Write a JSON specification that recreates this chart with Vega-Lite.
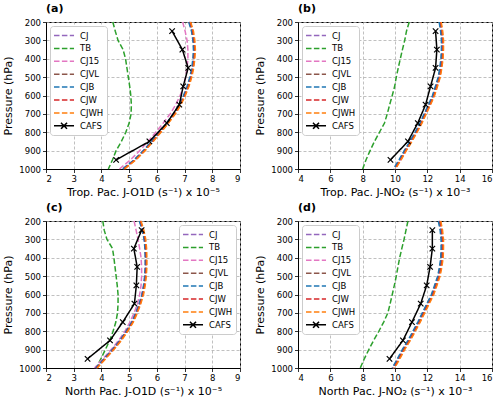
{
  "$schema": "https://vega.github.io/schema/vega-lite/v6.json",
  "padding": {"left": 2, "top": 2, "right": 2, "bottom": 2},
  "data": {"values": [
    {"panel":"a","p":1000,"CJ":4.79,"TB":4.25,"CJ15":4.65,"CJVL":4.78,"CJB":4.76,"CJW":4.81,"CJWH":4.83},
    {"panel":"a","p":950,"CJ":5.21,"TB":4.40,"CJ15":5.05,"CJVL":5.20,"CJB":5.18,"CJW":5.23,"CJWH":5.25,"CAFS":4.53},
    {"panel":"a","p":900,"CJ":5.54,"TB":4.53,"CJ15":5.38,"CJVL":5.53,"CJB":5.51,"CJW":5.56,"CJWH":5.58},
    {"panel":"a","p":850,"CJ":5.83,"TB":4.72,"CJ15":5.68,"CJVL":5.82,"CJB":5.80,"CJW":5.85,"CJWH":5.87,"CAFS":5.73},
    {"panel":"a","p":800,"CJ":6.11,"TB":4.88,"CJ15":5.96,"CJVL":6.10,"CJB":6.08,"CJW":6.13,"CJWH":6.15},
    {"panel":"a","p":750,"CJ":6.38,"TB":5.00,"CJ15":6.23,"CJVL":6.37,"CJB":6.35,"CJW":6.40,"CJWH":6.42,"CAFS":6.36},
    {"panel":"a","p":700,"CJ":6.63,"TB":5.07,"CJ15":6.48,"CJVL":6.62,"CJB":6.60,"CJW":6.65,"CJWH":6.67},
    {"panel":"a","p":650,"CJ":6.83,"TB":5.08,"CJ15":6.68,"CJVL":6.82,"CJB":6.80,"CJW":6.85,"CJWH":6.87,"CAFS":6.81},
    {"panel":"a","p":600,"CJ":6.99,"TB":5.06,"CJ15":6.84,"CJVL":6.98,"CJB":6.96,"CJW":7.01,"CJWH":7.03},
    {"panel":"a","p":550,"CJ":7.12,"TB":5.02,"CJ15":6.96,"CJVL":7.11,"CJB":7.09,"CJW":7.14,"CJWH":7.16,"CAFS":6.95},
    {"panel":"a","p":500,"CJ":7.22,"TB":4.97,"CJ15":7.04,"CJVL":7.21,"CJB":7.19,"CJW":7.24,"CJWH":7.26},
    {"panel":"a","p":450,"CJ":7.29,"TB":4.92,"CJ15":7.09,"CJVL":7.28,"CJB":7.26,"CJW":7.31,"CJWH":7.33,"CAFS":7.13},
    {"panel":"a","p":400,"CJ":7.33,"TB":4.87,"CJ15":7.12,"CJVL":7.32,"CJB":7.30,"CJW":7.35,"CJWH":7.37},
    {"panel":"a","p":350,"CJ":7.35,"TB":4.78,"CJ15":7.12,"CJVL":7.34,"CJB":7.32,"CJW":7.37,"CJWH":7.39,"CAFS":6.92},
    {"panel":"a","p":300,"CJ":7.33,"TB":4.60,"CJ15":7.09,"CJVL":7.32,"CJB":7.30,"CJW":7.35,"CJWH":7.37},
    {"panel":"a","p":250,"CJ":7.28,"TB":4.50,"CJ15":7.02,"CJVL":7.27,"CJB":7.25,"CJW":7.30,"CJWH":7.32,"CAFS":6.55},
    {"panel":"a","p":200,"CJ":7.18,"TB":4.41,"CJ15":6.93,"CJVL":7.17,"CJB":7.15,"CJW":7.20,"CJWH":7.22},

    {"panel":"b","p":1000,"CJ":9.95,"TB":8.00,"CJ15":9.97,"CJVL":9.93,"CJB":9.90,"CJW":10.00,"CJWH":10.03},
    {"panel":"b","p":950,"CJ":10.30,"TB":8.21,"CJ15":10.32,"CJVL":10.28,"CJB":10.25,"CJW":10.35,"CJWH":10.38,"CAFS":9.72},
    {"panel":"b","p":900,"CJ":10.62,"TB":8.46,"CJ15":10.64,"CJVL":10.60,"CJB":10.57,"CJW":10.67,"CJWH":10.70},
    {"panel":"b","p":850,"CJ":10.97,"TB":8.73,"CJ15":10.99,"CJVL":10.95,"CJB":10.92,"CJW":11.02,"CJWH":11.05,"CAFS":10.80},
    {"panel":"b","p":800,"CJ":11.29,"TB":9.04,"CJ15":11.31,"CJVL":11.27,"CJB":11.24,"CJW":11.34,"CJWH":11.37},
    {"panel":"b","p":750,"CJ":11.59,"TB":9.35,"CJ15":11.61,"CJVL":11.57,"CJB":11.54,"CJW":11.64,"CJWH":11.67,"CAFS":11.41},
    {"panel":"b","p":700,"CJ":11.85,"TB":9.52,"CJ15":11.87,"CJVL":11.83,"CJB":11.80,"CJW":11.90,"CJWH":11.93},
    {"panel":"b","p":650,"CJ":12.12,"TB":9.67,"CJ15":12.14,"CJVL":12.10,"CJB":12.07,"CJW":12.17,"CJWH":12.20,"CAFS":11.89},
    {"panel":"b","p":600,"CJ":12.37,"TB":9.83,"CJ15":12.39,"CJVL":12.35,"CJB":12.32,"CJW":12.42,"CJWH":12.45},
    {"panel":"b","p":550,"CJ":12.55,"TB":9.98,"CJ15":12.57,"CJVL":12.53,"CJB":12.50,"CJW":12.60,"CJWH":12.63,"CAFS":12.20},
    {"panel":"b","p":500,"CJ":12.72,"TB":10.08,"CJ15":12.74,"CJVL":12.70,"CJB":12.67,"CJW":12.77,"CJWH":12.80},
    {"panel":"b","p":450,"CJ":12.82,"TB":10.20,"CJ15":12.84,"CJVL":12.80,"CJB":12.77,"CJW":12.87,"CJWH":12.90,"CAFS":12.51},
    {"panel":"b","p":400,"CJ":12.89,"TB":10.33,"CJ15":12.91,"CJVL":12.87,"CJB":12.84,"CJW":12.94,"CJWH":12.97},
    {"panel":"b","p":350,"CJ":12.92,"TB":10.46,"CJ15":12.94,"CJVL":12.90,"CJB":12.87,"CJW":12.97,"CJWH":13.00,"CAFS":12.59},
    {"panel":"b","p":300,"CJ":12.92,"TB":10.60,"CJ15":12.94,"CJVL":12.90,"CJB":12.87,"CJW":12.97,"CJWH":13.00},
    {"panel":"b","p":250,"CJ":12.87,"TB":10.71,"CJ15":12.89,"CJVL":12.85,"CJB":12.82,"CJW":12.92,"CJWH":12.95,"CAFS":12.51},
    {"panel":"b","p":200,"CJ":12.78,"TB":10.88,"CJ15":12.80,"CJVL":12.76,"CJB":12.73,"CJW":12.83,"CJWH":12.86},

    {"panel":"c","p":1000,"CJ":3.80,"TB":3.82,"CJ15":3.75,"CJVL":3.81,"CJB":3.79,"CJW":3.83,"CJWH":3.85},
    {"panel":"c","p":950,"CJ":4.10,"TB":3.98,"CJ15":4.05,"CJVL":4.11,"CJB":4.09,"CJW":4.13,"CJWH":4.15,"CAFS":3.50},
    {"panel":"c","p":900,"CJ":4.40,"TB":4.14,"CJ15":4.35,"CJVL":4.41,"CJB":4.39,"CJW":4.43,"CJWH":4.45},
    {"panel":"c","p":850,"CJ":4.67,"TB":4.30,"CJ15":4.62,"CJVL":4.68,"CJB":4.66,"CJW":4.70,"CJWH":4.72,"CAFS":4.31},
    {"panel":"c","p":800,"CJ":4.90,"TB":4.42,"CJ15":4.85,"CJVL":4.91,"CJB":4.89,"CJW":4.93,"CJWH":4.95},
    {"panel":"c","p":750,"CJ":5.10,"TB":4.52,"CJ15":5.03,"CJVL":5.11,"CJB":5.09,"CJW":5.13,"CJWH":5.15,"CAFS":4.77},
    {"panel":"c","p":700,"CJ":5.25,"TB":4.58,"CJ15":5.18,"CJVL":5.26,"CJB":5.24,"CJW":5.28,"CJWH":5.30},
    {"panel":"c","p":650,"CJ":5.37,"TB":4.60,"CJ15":5.30,"CJVL":5.38,"CJB":5.36,"CJW":5.40,"CJWH":5.42,"CAFS":5.19},
    {"panel":"c","p":600,"CJ":5.47,"TB":4.60,"CJ15":5.38,"CJVL":5.48,"CJB":5.46,"CJW":5.50,"CJWH":5.52},
    {"panel":"c","p":550,"CJ":5.53,"TB":4.57,"CJ15":5.43,"CJVL":5.54,"CJB":5.52,"CJW":5.56,"CJWH":5.58,"CAFS":5.26},
    {"panel":"c","p":500,"CJ":5.57,"TB":4.53,"CJ15":5.45,"CJVL":5.58,"CJB":5.56,"CJW":5.60,"CJWH":5.62},
    {"panel":"c","p":450,"CJ":5.59,"TB":4.49,"CJ15":5.45,"CJVL":5.60,"CJB":5.58,"CJW":5.62,"CJWH":5.64,"CAFS":5.29},
    {"panel":"c","p":400,"CJ":5.59,"TB":4.45,"CJ15":5.43,"CJVL":5.60,"CJB":5.58,"CJW":5.62,"CJWH":5.64},
    {"panel":"c","p":350,"CJ":5.58,"TB":4.40,"CJ15":5.38,"CJVL":5.59,"CJB":5.57,"CJW":5.61,"CJWH":5.63,"CAFS":5.17},
    {"panel":"c","p":300,"CJ":5.55,"TB":4.20,"CJ15":5.32,"CJVL":5.56,"CJB":5.54,"CJW":5.58,"CJWH":5.60},
    {"panel":"c","p":250,"CJ":5.48,"TB":4.10,"CJ15":5.25,"CJVL":5.49,"CJB":5.47,"CJW":5.51,"CJWH":5.53,"CAFS":5.45},
    {"panel":"c","p":200,"CJ":5.38,"TB":4.05,"CJ15":5.18,"CJVL":5.39,"CJB":5.37,"CJW":5.41,"CJWH":5.43},

    {"panel":"d","p":1000,"CJ":9.87,"TB":7.85,"CJ15":9.87,"CJVL":9.86,"CJB":9.82,"CJW":9.93,"CJWH":9.97},
    {"panel":"d","p":950,"CJ":10.20,"TB":8.10,"CJ15":10.20,"CJVL":10.19,"CJB":10.15,"CJW":10.26,"CJWH":10.30,"CAFS":9.66},
    {"panel":"d","p":900,"CJ":10.50,"TB":8.38,"CJ15":10.50,"CJVL":10.49,"CJB":10.45,"CJW":10.56,"CJWH":10.60},
    {"panel":"d","p":850,"CJ":10.85,"TB":8.68,"CJ15":10.85,"CJVL":10.84,"CJB":10.80,"CJW":10.91,"CJWH":10.95,"CAFS":10.49},
    {"panel":"d","p":800,"CJ":11.16,"TB":9.00,"CJ15":11.16,"CJVL":11.15,"CJB":11.11,"CJW":11.22,"CJWH":11.26},
    {"panel":"d","p":750,"CJ":11.46,"TB":9.30,"CJ15":11.46,"CJVL":11.45,"CJB":11.41,"CJW":11.52,"CJWH":11.56,"CAFS":11.05},
    {"panel":"d","p":700,"CJ":11.74,"TB":9.56,"CJ15":11.74,"CJVL":11.73,"CJB":11.69,"CJW":11.80,"CJWH":11.84},
    {"panel":"d","p":650,"CJ":12.02,"TB":9.70,"CJ15":12.02,"CJVL":12.01,"CJB":11.97,"CJW":12.08,"CJWH":12.12,"CAFS":11.59},
    {"panel":"d","p":600,"CJ":12.30,"TB":9.83,"CJ15":12.30,"CJVL":12.29,"CJB":12.25,"CJW":12.36,"CJWH":12.40},
    {"panel":"d","p":550,"CJ":12.50,"TB":9.96,"CJ15":12.50,"CJVL":12.49,"CJB":12.45,"CJW":12.56,"CJWH":12.60,"CAFS":11.96},
    {"panel":"d","p":500,"CJ":12.69,"TB":10.08,"CJ15":12.69,"CJVL":12.68,"CJB":12.64,"CJW":12.75,"CJWH":12.79},
    {"panel":"d","p":450,"CJ":12.80,"TB":10.18,"CJ15":12.80,"CJVL":12.79,"CJB":12.75,"CJW":12.86,"CJWH":12.90,"CAFS":12.17},
    {"panel":"d","p":400,"CJ":12.88,"TB":10.29,"CJ15":12.88,"CJVL":12.87,"CJB":12.83,"CJW":12.94,"CJWH":12.98},
    {"panel":"d","p":350,"CJ":12.90,"TB":10.42,"CJ15":12.90,"CJVL":12.89,"CJB":12.85,"CJW":12.96,"CJWH":13.00,"CAFS":12.31},
    {"panel":"d","p":300,"CJ":12.90,"TB":10.56,"CJ15":12.90,"CJVL":12.89,"CJB":12.85,"CJW":12.96,"CJWH":13.00},
    {"panel":"d","p":250,"CJ":12.84,"TB":10.68,"CJ15":12.84,"CJVL":12.83,"CJB":12.79,"CJW":12.90,"CJWH":12.94,"CAFS":12.31},
    {"panel":"d","p":200,"CJ":12.73,"TB":10.80,"CJ15":12.73,"CJVL":12.72,"CJB":12.68,"CJW":12.79,"CJWH":12.83}
  ]},
  "transform": [
    {"fold": ["CJ","TB","CJ15","CJVL","CJB","CJW","CJWH","CAFS"], "as": ["model","j"]},
    {"filter": "isValid(datum.j)"}
  ],
  "config": {
    "font": "DejaVu Sans",
    "view": {"stroke": "black", "strokeWidth": 1},
    "axis": {
      "domainColor": "black", "tickColor": "black", "tickSize": 3.5, "tickWidth": 0.8,
      "labelFontSize": 8.5, "labelColor": "black", "labelPadding": 2,
      "titleFontSize": 11, "titleFontWeight": "normal", "titleColor": "black", "titlePadding": 4,
      "gridColor": "#b0b0b0", "gridDash": [3, 2], "gridWidth": 0.8
    },
    "axisX": {"titlePadding": 3},
    "axisY": {"titlePadding": 5, "format": "d"},
    "legend": {
      "offset": 4, "padding": 3, "fillColor": "white", "strokeColor": "#cccccc", "cornerRadius": 3,
      "symbolType": "stroke", "symbolSize": 121, "symbolStrokeWidth": 1.5,
      "labelFontSize": 8.5, "labelColor": "black", "rowPadding": 1.9, "labelOffset": 14
    },
    "title": {"anchor": "start", "fontSize": 11, "fontWeight": "bold", "offset": 4, "frame": "group", "color": "black"},
    "point": {"opacity": 1}
  },
  "columns": 2,
  "spacing": {"column": 58, "row": 52},
  "bounds": "flush",
  "resolve": {
    "scale": {"x": "independent", "y": "independent", "color": "independent", "strokeDash": "independent"},
    "axis": {"x": "independent", "y": "independent"},
    "legend": {"color": "independent", "strokeDash": "independent"}
  },
  "concat": [
    {
      "title": {"text": "(a)"},
      "width": 194, "height": 147,
      "transform": [{"filter": "datum.panel === 'a'"}],
      "encoding": {
        "x": {"field": "j", "type": "quantitative", "scale": {"domain": [2, 9], "nice": false, "zero": false}, "axis": {"values": [2,3,4,5,6,7,8,9], "title": "Trop. Pac. J-O1D (s⁻¹) x 10⁻⁵"}},
        "y": {"field": "p", "type": "quantitative", "scale": {"domain": [200, 1000], "reverse": true, "nice": false, "zero": false}, "axis": {"values": [200,300,400,500,600,700,800,900,1000], "title": "Pressure (hPa)"}}
      },
      "layer": [
        {"mark": {"type": "line", "strokeWidth": 1.5},
         "encoding": {
           "order": {"field": "p", "type": "quantitative"},
           "color": {"field": "model", "type": "nominal", "scale": {"domain": ["CJ","TB","CJ15","CJVL","CJB","CJW","CJWH","CAFS"], "range": ["#9467bd","#2ca02c","#e377c2","#8c564b","#1f77b4","#d62728","#ff7f0e","#000000"]},
             "legend": {"title": null, "orient": "top-left", "encode": {"symbols": {"update": {"shape": [{"test": "datum.value === 'CAFS'", "value": "M-1,0L2.64,0M0.27,-0.55L1.37,0.55M0.27,0.55L1.37,-0.55"}, {"value": "M-1,0L2.64,0"}]}}}}},
           "strokeDash": {"field": "model", "type": "nominal", "scale": {"domain": ["CJ","TB","CJ15","CJVL","CJB","CJW","CJWH","CAFS"], "range": [[5.5,2.4],[5.5,2.4],[5.5,2.4],[5.5,2.4],[5.5,2.4],[5.5,2.4],[5.5,2.4],[1,0]]},
             "legend": {"title": null, "orient": "top-left", "encode": {"symbols": {"update": {"shape": [{"test": "datum.value === 'CAFS'", "value": "M-1,0L2.64,0M0.27,-0.55L1.37,0.55M0.27,0.55L1.37,-0.55"}, {"value": "M-1,0L2.64,0"}]}}}}}
         }},
        {"transform": [{"filter": "datum.model === 'CAFS'"}],
         "mark": {"type": "point", "shape": "M-1,-1L1,1M-1,1L1,-1", "size": 30, "filled": false, "stroke": "black", "strokeWidth": 1.2, "opacity": 1}}
      ]
    },
    {
      "title": {"text": "(b)"},
      "width": 194, "height": 147,
      "transform": [{"filter": "datum.panel === 'b'"}],
      "encoding": {
        "x": {"field": "j", "type": "quantitative", "scale": {"domain": [4, 16], "nice": false, "zero": false}, "axis": {"values": [4,6,8,10,12,14,16], "title": "Trop. Pac. J-NO₂ (s⁻¹) x 10⁻³"}},
        "y": {"field": "p", "type": "quantitative", "scale": {"domain": [200, 1000], "reverse": true, "nice": false, "zero": false}, "axis": {"values": [200,300,400,500,600,700,800,900,1000], "title": "Pressure (hPa)"}}
      },
      "layer": [
        {"mark": {"type": "line", "strokeWidth": 1.5},
         "encoding": {
           "order": {"field": "p", "type": "quantitative"},
           "color": {"field": "model", "type": "nominal", "scale": {"domain": ["CJ","TB","CJ15","CJVL","CJB","CJW","CJWH","CAFS"], "range": ["#9467bd","#2ca02c","#e377c2","#8c564b","#1f77b4","#d62728","#ff7f0e","#000000"]},
             "legend": {"title": null, "orient": "top-left", "encode": {"symbols": {"update": {"shape": [{"test": "datum.value === 'CAFS'", "value": "M-1,0L2.64,0M0.27,-0.55L1.37,0.55M0.27,0.55L1.37,-0.55"}, {"value": "M-1,0L2.64,0"}]}}}}},
           "strokeDash": {"field": "model", "type": "nominal", "scale": {"domain": ["CJ","TB","CJ15","CJVL","CJB","CJW","CJWH","CAFS"], "range": [[5.5,2.4],[5.5,2.4],[5.5,2.4],[5.5,2.4],[5.5,2.4],[5.5,2.4],[5.5,2.4],[1,0]]},
             "legend": {"title": null, "orient": "top-left", "encode": {"symbols": {"update": {"shape": [{"test": "datum.value === 'CAFS'", "value": "M-1,0L2.64,0M0.27,-0.55L1.37,0.55M0.27,0.55L1.37,-0.55"}, {"value": "M-1,0L2.64,0"}]}}}}}
         }},
        {"transform": [{"filter": "datum.model === 'CAFS'"}],
         "mark": {"type": "point", "shape": "M-1,-1L1,1M-1,1L1,-1", "size": 30, "filled": false, "stroke": "black", "strokeWidth": 1.2, "opacity": 1}}
      ]
    },
    {
      "title": {"text": "(c)"},
      "width": 194, "height": 147,
      "transform": [{"filter": "datum.panel === 'c'"}],
      "encoding": {
        "x": {"field": "j", "type": "quantitative", "scale": {"domain": [2, 9], "nice": false, "zero": false}, "axis": {"values": [2,3,4,5,6,7,8,9], "title": "North Pac. J-O1D (s⁻¹) x 10⁻⁵"}},
        "y": {"field": "p", "type": "quantitative", "scale": {"domain": [200, 1000], "reverse": true, "nice": false, "zero": false}, "axis": {"values": [200,300,400,500,600,700,800,900,1000], "title": "Pressure (hPa)"}}
      },
      "layer": [
        {"mark": {"type": "line", "strokeWidth": 1.5},
         "encoding": {
           "order": {"field": "p", "type": "quantitative"},
           "color": {"field": "model", "type": "nominal", "scale": {"domain": ["CJ","TB","CJ15","CJVL","CJB","CJW","CJWH","CAFS"], "range": ["#9467bd","#2ca02c","#e377c2","#8c564b","#1f77b4","#d62728","#ff7f0e","#000000"]},
             "legend": {"title": null, "orient": "top-right", "encode": {"symbols": {"update": {"shape": [{"test": "datum.value === 'CAFS'", "value": "M-1,0L2.64,0M0.27,-0.55L1.37,0.55M0.27,0.55L1.37,-0.55"}, {"value": "M-1,0L2.64,0"}]}}}}},
           "strokeDash": {"field": "model", "type": "nominal", "scale": {"domain": ["CJ","TB","CJ15","CJVL","CJB","CJW","CJWH","CAFS"], "range": [[5.5,2.4],[5.5,2.4],[5.5,2.4],[5.5,2.4],[5.5,2.4],[5.5,2.4],[5.5,2.4],[1,0]]},
             "legend": {"title": null, "orient": "top-right", "encode": {"symbols": {"update": {"shape": [{"test": "datum.value === 'CAFS'", "value": "M-1,0L2.64,0M0.27,-0.55L1.37,0.55M0.27,0.55L1.37,-0.55"}, {"value": "M-1,0L2.64,0"}]}}}}}
         }},
        {"transform": [{"filter": "datum.model === 'CAFS'"}],
         "mark": {"type": "point", "shape": "M-1,-1L1,1M-1,1L1,-1", "size": 30, "filled": false, "stroke": "black", "strokeWidth": 1.2, "opacity": 1}}
      ]
    },
    {
      "title": {"text": "(d)"},
      "width": 194, "height": 147,
      "transform": [{"filter": "datum.panel === 'd'"}],
      "encoding": {
        "x": {"field": "j", "type": "quantitative", "scale": {"domain": [4, 16], "nice": false, "zero": false}, "axis": {"values": [4,6,8,10,12,14,16], "title": "North Pac. J-NO₂ (s⁻¹) x 10⁻³"}},
        "y": {"field": "p", "type": "quantitative", "scale": {"domain": [200, 1000], "reverse": true, "nice": false, "zero": false}, "axis": {"values": [200,300,400,500,600,700,800,900,1000], "title": "Pressure (hPa)"}}
      },
      "layer": [
        {"mark": {"type": "line", "strokeWidth": 1.5},
         "encoding": {
           "order": {"field": "p", "type": "quantitative"},
           "color": {"field": "model", "type": "nominal", "scale": {"domain": ["CJ","TB","CJ15","CJVL","CJB","CJW","CJWH","CAFS"], "range": ["#9467bd","#2ca02c","#e377c2","#8c564b","#1f77b4","#d62728","#ff7f0e","#000000"]},
             "legend": {"title": null, "orient": "top-left", "encode": {"symbols": {"update": {"shape": [{"test": "datum.value === 'CAFS'", "value": "M-1,0L2.64,0M0.27,-0.55L1.37,0.55M0.27,0.55L1.37,-0.55"}, {"value": "M-1,0L2.64,0"}]}}}}},
           "strokeDash": {"field": "model", "type": "nominal", "scale": {"domain": ["CJ","TB","CJ15","CJVL","CJB","CJW","CJWH","CAFS"], "range": [[5.5,2.4],[5.5,2.4],[5.5,2.4],[5.5,2.4],[5.5,2.4],[5.5,2.4],[5.5,2.4],[1,0]]},
             "legend": {"title": null, "orient": "top-left", "encode": {"symbols": {"update": {"shape": [{"test": "datum.value === 'CAFS'", "value": "M-1,0L2.64,0M0.27,-0.55L1.37,0.55M0.27,0.55L1.37,-0.55"}, {"value": "M-1,0L2.64,0"}]}}}}}
         }},
        {"transform": [{"filter": "datum.model === 'CAFS'"}],
         "mark": {"type": "point", "shape": "M-1,-1L1,1M-1,1L1,-1", "size": 30, "filled": false, "stroke": "black", "strokeWidth": 1.2, "opacity": 1}}
      ]
    }
  ]
}
